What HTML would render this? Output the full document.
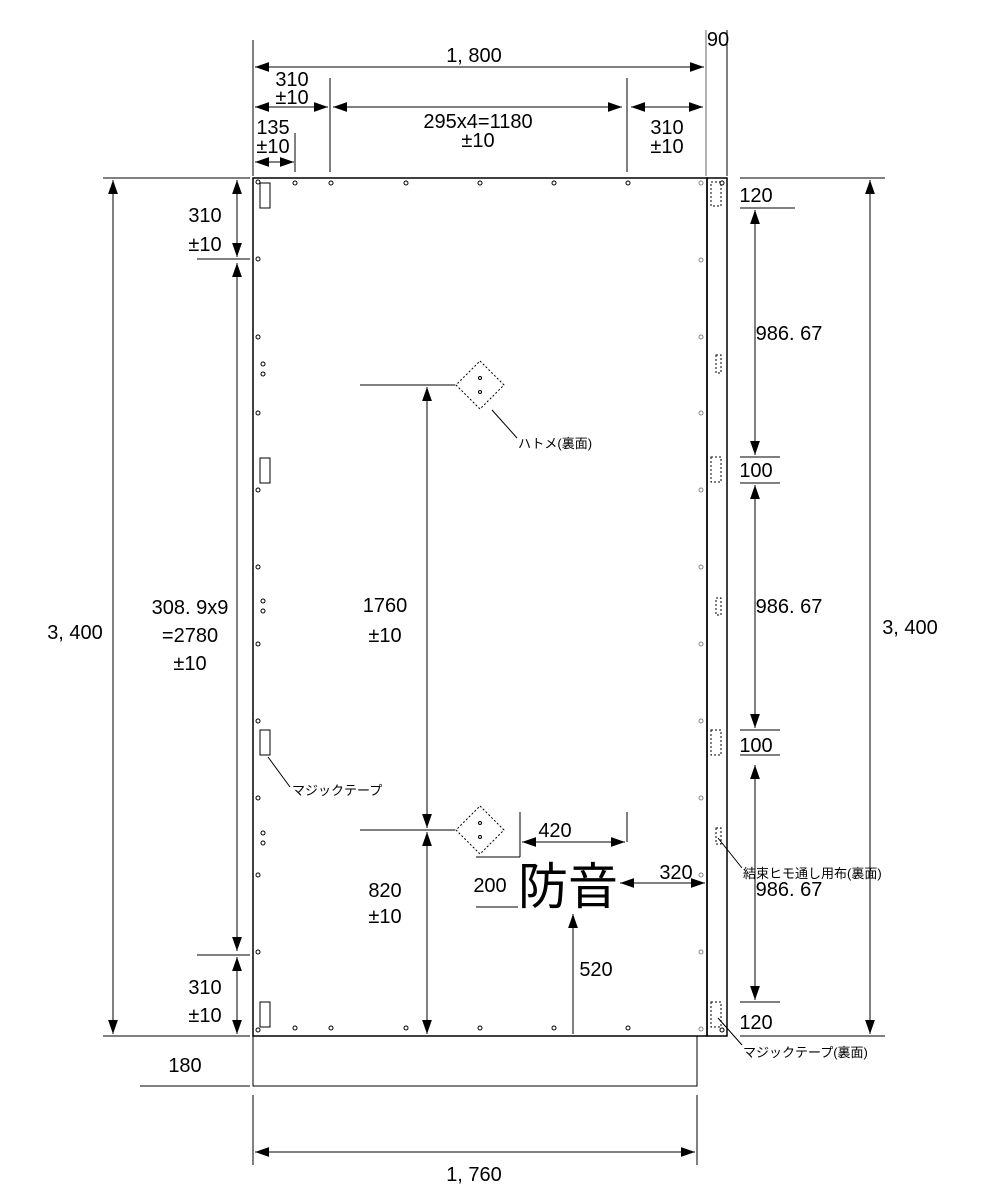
<!DOCTYPE html>
<html><head><meta charset="utf-8"><style>
html,body{margin:0;padding:0;background:#fff}
svg{display:block}
text{font-family:"Liberation Sans","Noto Sans CJK JP",sans-serif;fill:#000}
</style></head><body>
<svg width="1000" height="1200" viewBox="0 0 1000 1200" xmlns="http://www.w3.org/2000/svg">
<defs>
<marker id="a" viewBox="0 0 10 10" refX="10" refY="5" markerWidth="14" markerHeight="14" markerUnits="userSpaceOnUse" orient="auto-start-reverse"><path d="M0,1.5 L10,5 L0,8.5z" fill="#000"/></marker>
</defs>
<g stroke="#000" fill="none" stroke-width="1.5">
<rect x="253" y="178" width="454" height="858"/>
<rect x="707" y="178" width="20" height="858"/>
<polyline points="253,1036 253,1086 697,1086 697,1036" stroke-width="1"/>
</g>
<g stroke="#000" stroke-width="1" fill="none">
<line x1="103" y1="178" x2="250" y2="178"/><line x1="103" y1="1036" x2="250" y2="1036"/>
<line x1="197" y1="259" x2="250" y2="259"/><line x1="197" y1="955" x2="250" y2="955"/>
<line x1="253" y1="40" x2="253" y2="176"/><line x1="706" y1="30" x2="706" y2="176" stroke="#666"/><line x1="727" y1="30" x2="727" y2="176"/>
<line x1="330" y1="78" x2="330" y2="172"/><line x1="627" y1="78" x2="627" y2="172"/><line x1="295" y1="133" x2="295" y2="172"/>
<line x1="740" y1="178" x2="885" y2="178"/><line x1="740" y1="1036" x2="885" y2="1036"/>
<line x1="740" y1="208" x2="795" y2="208"/><line x1="740" y1="457" x2="780" y2="457"/><line x1="740" y1="483" x2="780" y2="483"/>
<line x1="740" y1="730" x2="780" y2="730"/><line x1="740" y1="755" x2="780" y2="755"/><line x1="740" y1="1002" x2="780" y2="1002"/>
<line x1="360" y1="385" x2="455" y2="385"/><line x1="360" y1="830" x2="455" y2="830"/>
<line x1="520" y1="812" x2="520" y2="857"/><line x1="627" y1="812" x2="627" y2="842"/>
<line x1="476" y1="857" x2="520" y2="857"/><line x1="476" y1="907" x2="518" y2="907"/>
<line x1="140" y1="1086" x2="250" y2="1086"/>
<line x1="253" y1="1095" x2="253" y2="1165"/><line x1="697" y1="1095" x2="697" y2="1165"/>
<g marker-start="url(#a)" marker-end="url(#a)">
<line x1="113" y1="180" x2="113" y2="1034"/>
<line x1="237" y1="180" x2="237" y2="257"/>
<line x1="237" y1="263" x2="237" y2="951"/>
<line x1="237" y1="957" x2="237" y2="1034"/>
<line x1="427" y1="387" x2="427" y2="828"/>
<line x1="427" y1="832" x2="427" y2="1034"/>
<line x1="255" y1="67" x2="704" y2="67"/>
<line x1="255" y1="107" x2="328" y2="107"/>
<line x1="333" y1="107" x2="622" y2="107"/>
<line x1="631" y1="107" x2="703" y2="107"/>
<line x1="255" y1="162" x2="294" y2="162"/>
<line x1="870" y1="180" x2="870" y2="1034"/>
<line x1="755" y1="210" x2="755" y2="455"/>
<line x1="755" y1="485" x2="755" y2="728"/>
<line x1="755" y1="765" x2="755" y2="1000"/>
<line x1="522" y1="842" x2="625" y2="842"/>
<line x1="620" y1="883" x2="705" y2="883"/>
<line x1="255" y1="1152" x2="695" y2="1152"/>
</g>
<line x1="573" y1="1034" x2="573" y2="914" marker-end="url(#a)"/>
<line x1="492" y1="410" x2="517" y2="438"/>
<line x1="268" y1="757" x2="290" y2="787"/>
<line x1="718" y1="838" x2="742" y2="868"/>
<line x1="718" y1="1018" x2="742" y2="1045"/>
<polygon points="480,361 504,385 480,409 456,385" stroke-dasharray="2,2"/>
<polygon points="480,806 504,830 480,854 456,830" stroke-dasharray="2,2"/>
<rect x="260" y="183" width="10" height="25"/><rect x="260" y="458" width="10" height="25"/>
<rect x="260" y="730" width="10" height="25"/><rect x="260" y="1002" width="10" height="25"/>
<g stroke-dasharray="2,2">
<rect x="711" y="182" width="10" height="24"/><rect x="711" y="457" width="10" height="25"/>
<rect x="711" y="730" width="10" height="25"/><rect x="711" y="1002" width="10" height="25"/>
<rect x="716" y="355" width="5" height="18"/><rect x="716" y="598" width="5" height="17"/><rect x="716" y="828" width="5" height="16"/>
</g>
</g>
<g stroke="#000" stroke-width="1" fill="#fff">
<circle cx="258" cy="182" r="2"/><circle cx="258" cy="259" r="2"/><circle cx="258" cy="337" r="2"/><circle cx="258" cy="413" r="2"/><circle cx="258" cy="490" r="2"/><circle cx="258" cy="567" r="2"/><circle cx="258" cy="644" r="2"/><circle cx="258" cy="721" r="2"/><circle cx="258" cy="798" r="2"/><circle cx="258" cy="875" r="2"/><circle cx="258" cy="952" r="2"/><circle cx="258" cy="1030" r="2"/>
<circle cx="263" cy="364" r="2"/><circle cx="263" cy="374" r="2"/><circle cx="263" cy="601" r="2"/><circle cx="263" cy="611" r="2"/><circle cx="263" cy="833" r="2"/><circle cx="263" cy="843" r="2"/>
<circle cx="295" cy="183" r="2"/><circle cx="331" cy="183" r="2"/><circle cx="406" cy="183" r="2"/><circle cx="480" cy="183" r="2"/><circle cx="554" cy="183" r="2"/><circle cx="628" cy="183" r="2"/>
<circle cx="295" cy="1028" r="2"/><circle cx="331" cy="1028" r="2"/><circle cx="406" cy="1028" r="2"/><circle cx="480" cy="1028" r="2"/><circle cx="554" cy="1028" r="2"/><circle cx="628" cy="1028" r="2"/>
<circle cx="722" cy="183" r="2"/><circle cx="722" cy="1030" r="2"/>
<circle cx="480" cy="378" r="1.5"/><circle cx="480" cy="392" r="1.5"/><circle cx="480" cy="823" r="1.5"/><circle cx="480" cy="837" r="1.5"/>
</g>
<g stroke="#888" stroke-width="1" fill="#fff">
<circle cx="701" cy="183" r="2"/><circle cx="701" cy="260" r="2"/><circle cx="701" cy="337" r="2"/><circle cx="701" cy="413" r="2"/><circle cx="701" cy="490" r="2"/><circle cx="701" cy="567" r="2"/><circle cx="701" cy="644" r="2"/><circle cx="701" cy="721" r="2"/><circle cx="701" cy="798" r="2"/><circle cx="701" cy="875" r="2"/><circle cx="701" cy="952" r="2"/><circle cx="701" cy="1029" r="2"/>
</g>
<g font-size="20" text-anchor="middle">
<text x="474" y="62">1, 800</text>
<text x="718" y="46">90</text>
<text x="292" y="86">310</text><text x="292" y="104">±10</text>
<text x="273" y="134">135</text><text x="273" y="153">±10</text>
<text x="478" y="128">295x4=1180</text><text x="478" y="147">±10</text>
<text x="667" y="134">310</text><text x="667" y="153">±10</text>
<text x="75" y="639">3, 400</text>
<text x="205" y="222">310</text><text x="205" y="251">±10</text>
<text x="190" y="614">308. 9x9</text><text x="190" y="642">=2780</text><text x="190" y="670">±10</text>
<text x="205" y="994">310</text><text x="205" y="1022">±10</text>
<text x="385" y="612">1760</text><text x="385" y="642">±10</text>
<text x="385" y="897">820</text><text x="385" y="923">±10</text>
<text x="555" y="837">420</text>
<text x="490" y="892">200</text>
<text x="676" y="879">320</text>
<text x="596" y="976">520</text>
<text x="756" y="202">120</text>
<text x="789" y="340">986. 67</text>
<text x="756" y="477">100</text>
<text x="789" y="613">986. 67</text>
<text x="756" y="752">100</text>
<text x="789" y="896">986. 67</text>
<text x="756" y="1029">120</text>
<text x="910" y="634">3, 400</text>
<text x="185" y="1072">180</text>
<text x="474" y="1181">1, 760</text>
</g>
<text x="568" y="904" font-size="50" text-anchor="middle">防音</text>
<g font-size="13">
<text x="518" y="448">ハトメ(裏面)</text>
<text x="292" y="795">マジックテープ</text>
<text x="743" y="878">結束ヒモ通し用布(裏面)</text>
<text x="743" y="1057">マジックテープ(裏面)</text>
</g>
</svg>
</body></html>
